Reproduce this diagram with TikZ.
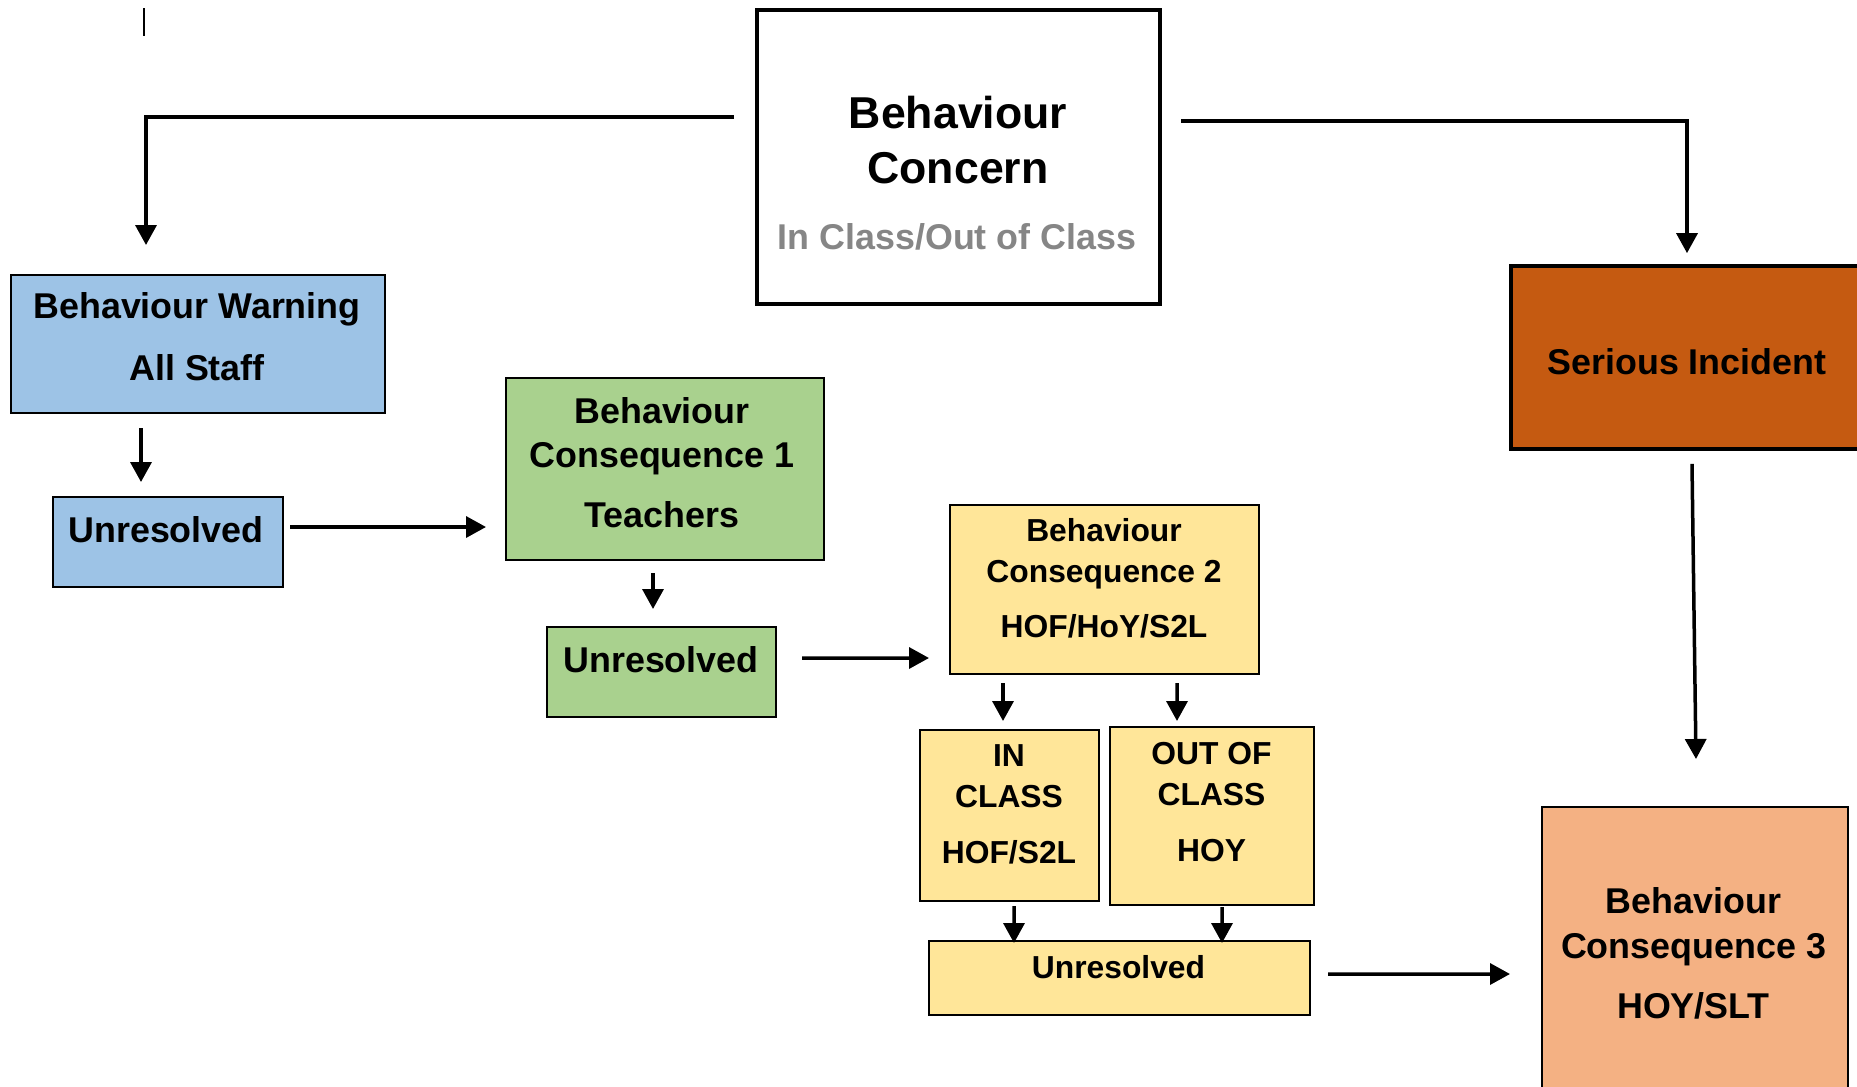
\documentclass[tikz,border=0pt]{standalone}
\usepackage{fontspec}
\setmainfont{Liberation Sans}
\usepackage{tikz}
\usetikzlibrary{arrows.meta}
\definecolor{warnblue}{RGB}{157,195,230}
\definecolor{teachgreen}{RGB}{169,209,142}
\definecolor{hofyellow}{RGB}{255,230,153}
\definecolor{seriousorange}{RGB}{197,90,17}
\definecolor{sltpeach}{RGB}{244,177,131}
\definecolor{subgrey}{RGB}{134,134,134}
\newcommand{\titletext}{\bfseries\fontsize{25.4}{31.2}\selectfont}
\newcommand{\bigtext}{\bfseries\fontsize{20.4}{25.5}\selectfont}
\newcommand{\smalltext}{\bfseries\fontsize{18.1}{23.3}\selectfont}
\tikzset{
    boxsize/.style 2 args={minimum width=#1*0.02cm, minimum height=#2*0.02cm},
    box/.style={draw, line width=0.04cm, inner sep=0pt},
    heavybox/.style={box, line width=0.075cm},
    warnbox/.style={box, fill=warnblue},
    teachbox/.style={box, fill=teachgreen},
    hofbox/.style={box, fill=hofyellow},
    seriousbox/.style={heavybox, fill=seriousorange},
    sltbox/.style={box, fill=sltpeach},
    lbl/.style={align=center, inner sep=0pt, font=\bigtext},
    slbl/.style={align=center, inner sep=0pt, font=\smalltext},
    arr/.style={line width=0.07cm, -{Triangle[length=0.4cm, width=0.42cm]}}
}

\begin{document}
\begin{tikzpicture}[x=0.02cm, y=-0.02cm]
    \useasboundingbox (0,0) rectangle (1857,1086);

    % boxes
    \node[heavybox, line width=0.08cm, boxsize={403}{294}] (concern) at (958.5,157) {};
    \node[warnbox, boxsize={374}{138}] (warn) at (198,344) {};
    \node[warnbox, boxsize={230}{90}] (unres1) at (168,542) {};
    \node[teachbox, boxsize={318}{182}] (bc1) at (665,469) {};
    \node[teachbox, boxsize={229}{90}] (unres2) at (661.5,672) {};
    \node[hofbox, boxsize={309}{169}] (bc2) at (1104.5,589.5) {};
    \node[hofbox, boxsize={179}{171}] (inclass) at (1009.5,815.5) {};
    \node[hofbox, boxsize={204}{178}] (outclass) at (1212,816) {};
    \node[hofbox, boxsize={381}{74}] (unres3) at (1119.5,978) {};
    \node[seriousbox, boxsize={359}{183}] (serious) at (1690.5,357.5) {};
    \node[sltbox, boxsize={306}{293}] (bc3) at (1695,953.5) {};

    % texts
    \node[lbl, font=\titletext] (concern-t) at (958,140) {Behaviour\\Concern};
    \node[lbl, text=subgrey] (concern-s) at (957,237) {In Class/Out of Class};
    \node[lbl] (warn-t) at (197,337) {Behaviour Warning\\[9.6pt]All Staff};
    \node[lbl] (unres1-t) at (166,530) {Unresolved};
    \node[lbl] (bc1-t) at (662,462.5) {Behaviour\\Consequence 1\\[8.5pt]Teachers};
    \node[lbl] (unres2-t) at (661,660) {Unresolved};
    \node[slbl] (bc2-t) at (1104,578.5) {Behaviour\\Consequence 2\\[7.9pt]HOF/HoY/S2L};
    \node[slbl] (inclass-t) at (1009,804.5) {IN\\CLASS\\[8.5pt]HOF/S2L};
    \node[slbl] (outclass-t) at (1211.5,802) {OUT OF\\CLASS\\[8.5pt]HOY};
    \node[slbl] (unres3-t) at (1118.5,967) {Unresolved};
    \node[lbl] (serious-t) at (1687,362) {Serious Incident};
    \node[lbl] (bc3-t) at (1693.5,953.5) {Behaviour\\Consequence 3\\[8.5pt]HOY/SLT};

    % stray mark
    \draw[line width=0.035cm] (144,8) -- (144,36);

    % connectors
    \draw[arr] ([shift={(-21,-40)}]concern.west) -| ([shift={(-52,-29)}]warn.north);
    \draw[arr] ([shift={(19,-36)}]concern.east) -| ([shift={(-3.5,-11)}]serious.north);
    \draw[arr] ([shift={(-57,14)}]warn.south) -- ([shift={(-27,-14)}]unres1.north);
    \draw[arr] ([shift={(6,-15)}]unres1.east) -- ([shift={(-19,58)}]bc1.west);
    \draw[arr] ([shift={(-12,12)}]bc1.south) -- ([shift={(-8.5,-17)}]unres2.north);
    \draw[arr] ([shift={(25,-14)}]unres2.east) -- ([shift={(-20,68.5)}]bc2.west);
    \draw[arr] ([shift={(-101.5,8)}]bc2.south) -- ([shift={(-6.5,-8)}]inclass.north);
    \draw[arr] ([shift={(72.5,8)}]bc2.south) -- ([shift={(-35,-5)}]outclass.north);
    \draw[arr] ([shift={(4.5,4)}]inclass.south) -- ([shift={(-105.5,3)}]unres3.north);
    \draw[arr] ([shift={(10,1)}]outclass.south) -- ([shift={(102.5,3)}]unres3.north);
    \draw[arr] ([shift={(17,-4)}]unres3.east) -- ([shift={(-31,20.5)}]bc3.west);
    \draw[arr] ([shift={(1.5,13)}]serious.south) -- ([shift={(1,-47)}]bc3.north);
\end{tikzpicture}
\end{document}
